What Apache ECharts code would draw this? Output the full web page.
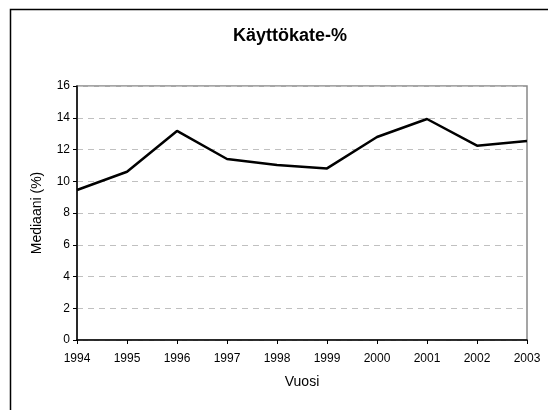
<!DOCTYPE html>
<html>
<head>
<meta charset="utf-8">
<script src="https://cdn.jsdelivr.net/npm/echarts@6/dist/echarts.min.js"></script>
<style>
html,body{margin:0;padding:0;background:#fff;}
#c{width:548px;height:410px;}
</style>
</head>
<body>
<div id="c"></div>
<script>
const years = ['1994','1995','1996','1997','1998','1999','2000','2001','2002','2003'];
const median = [9.45, 10.6, 13.17, 11.4, 11.02, 10.81, 12.79, 13.92, 12.24, 12.53];
const titleText = 'Käyttökate-%';
const yName = 'Mediaani (%)';
const xName = 'Vuosi';

const chart = echarts.init(document.getElementById('c'), null, {renderer: 'canvas'});
const font = 'Arial, "Liberation Sans", sans-serif';
chart.setOption({
  animation: false,
  backgroundColor: '#fff',
  graphic: [{
    type: 'rect', left: 8, top: 7, z: 0,
    shape: {width: 560, height: 420},
    style: {fill: 'none', stroke: '#000', lineWidth: 1.5}
  }],
  title: {
    text: titleText, left: 285, top: 22, textAlign: 'center',
    textStyle: {fontFamily: font, fontSize: 18, fontWeight: 'bold', color: '#000'}
  },
  grid: {
    left: 77, right: 21, top: 86, bottom: 70,
    show: true, borderColor: '#888', borderWidth: 1.5, backgroundColor: 'transparent'
  },
  xAxis: {
    type: 'category', data: years, boundaryGap: false,
    name: xName, nameLocation: 'middle', nameGap: 35,
    nameTextStyle: {fontFamily: font, fontSize: 14, color: '#000'},
    axisLine: {lineStyle: {color: '#000', width: 1.5}},
    axisTick: {show: true, length: 4, lineStyle: {color: '#000'}, alignWithLabel: true},
    axisLabel: {fontFamily: font, fontSize: 12, color: '#000', margin: 13, interval: 0},
    splitLine: {show: false}
  },
  yAxis: {
    type: 'value', min: 0, max: 16, interval: 2,
    name: yName, nameLocation: 'middle', nameGap: 33, nameRotate: 90,
    nameTextStyle: {fontFamily: font, fontSize: 14, color: '#000'},
    axisLine: {show: true, lineStyle: {color: '#000', width: 1.5}},
    axisTick: {show: true, length: 4, lineStyle: {color: '#000'}},
    axisLabel: {fontFamily: font, fontSize: 12, color: '#000', margin: 7},
    splitLine: {show: true, lineStyle: {color: '#c0c0c0', type: [6, 5], width: 1}}
  },
  series: [{
    type: 'line', data: median, symbol: 'none',
    lineStyle: {color: '#000', width: 2.5}
  }]
});
</script>
</body>
</html>
